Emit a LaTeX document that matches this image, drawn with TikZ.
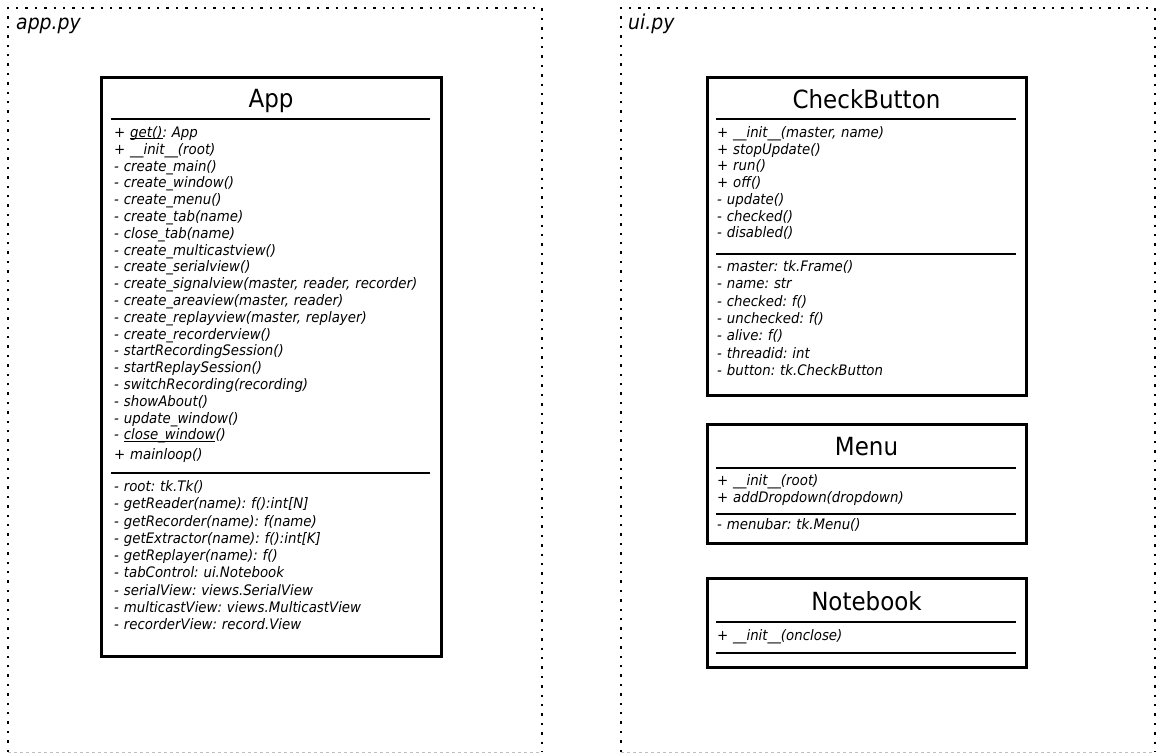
\documentclass[tikz,border=0pt]{standalone}
\usepackage{fontspec}
\setmainfont{DejaVu Sans}[FakeStretch=0.92]
\usepackage{tikz}
\newcommand{\Static}[1]{\setbox0\hbox{#1}\rlap{\rule[-1.6pt]{\wd0}{0.7pt}}\box0}
\frenchspacing

\begin{document}
\begin{tikzpicture}[x=1pt, y=-1pt,
    frame/.style={line width=2.5pt, dash pattern=on 2.4pt off 7pt},
    classbox/.style={draw, line width=3pt, inner sep=0, outer sep=0},
    classname/.style={font=\fontsize{25}{29}\selectfont, inner sep=0},
    members/.style={font=\fontsize{14.5}{16.8}\selectfont\itshape, inner sep=0, anchor=base west},
    sep/.style={line width=1.5pt}]
  \useasboundingbox (0,0) rectangle (1157,753);

  % module frames
  \draw[frame] (8,752) -- (8,8) -- (542,8) -- (542,752);
  \draw[frame] (621,752) -- (621,8) -- (1155,8) -- (1155,752);
  \draw[gray!50, dashed, line width=0.6pt] (8,752) -- (542,752) (621,752) -- (1155,752);

  \node[font=\fontsize{20.5}{24}\selectfont\itshape, inner sep=0, anchor=base west]
    (appfile) at (16,29) {app.py};
  \node[font=\fontsize{20.5}{24}\selectfont\itshape, inner sep=0, anchor=base west]
    (uifile) at (628,29) {ui.py};

  % App
  \node[classbox, minimum width=340, minimum height=579] (app) at (271,366.5) {};
  \node[classname, anchor=base] (appname) at (271,107) {App};
  \draw[sep] (111,119) -- (430,119);
  \node[members, text width=320] (appops) at (114,137.5) {+ \Static{get()}: App\\
    + \_\_init\_\_(root)\\- create\_main()\\- create\_window()\\- create\_menu()\\
    - create\_tab(name)\\- close\_tab(name)\\- create\_multicastview()\\
    - create\_serialview()\\- create\_signalview(master, reader, recorder)\\
    - create\_areaview(master, reader)\\- create\_replayview(master, replayer)\\
    - create\_recorderview()\\- startRecordingSession()\\- startReplaySession()\\
    - switchRecording(recording)\\- showAbout()\\- update\_window()\\
    - \Static{close\_window}()\\[2.5pt]+ mainloop()};
  \draw[sep] (111,473) -- (430,473);
  \node[members, text width=320, font=\fontsize{14.5}{17.25}\selectfont\itshape]
    (appattrs) at (114,491.5) {- root: tk.Tk()\\- getReader(name): f():int[N]\\
    - getRecorder(name): f(name)\\- getExtractor(name): f():int[K]\\
    - getReplayer(name): f()\\- tabControl: ui.Notebook\\
    - serialView: views.SerialView\\- multicastView: views.MulticastView\\
    - recorderView: record.View};

  % CheckButton
  \node[classbox, minimum width=319, minimum height=318] (check) at (866.5,236) {};
  \node[classname, anchor=base] (checkname) at (866.5,108) {CheckButton};
  \draw[sep] (716,119) -- (1016,119);
  \node[members, text width=295, font=\fontsize{14.5}{16.7}\selectfont\itshape]
    (checkops) at (717,137.5) {+ \_\_init\_\_(master, name)\\+ stopUpdate()\\
    + run()\\+ off()\\- update()\\- checked()\\- disabled()};
  \draw[sep] (716,254) -- (1016,254);
  \node[members, text width=295, font=\fontsize{14.5}{17.3}\selectfont\itshape]
    (checkattrs) at (717,271.5) {- master: tk.Frame()\\- name: str\\- checked: f()\\
    - unchecked: f()\\- alive: f()\\- threadid: int\\- button: tk.CheckButton};

  % Menu
  \node[classbox, minimum width=319, minimum height=119] (menu) at (866.5,483.5) {};
  \node[classname, anchor=base] (menuname) at (866.5,455) {Menu};
  \draw[sep] (716,468) -- (1016,468);
  \node[members, text width=295, font=\fontsize{14.5}{17}\selectfont\itshape]
    (menuops) at (717,485.5) {+ \_\_init\_\_(root)\\+ addDropdown(dropdown)};
  \draw[sep] (716,514) -- (1016,514);
  \node[members, text width=295] (menuattrs) at (717,529.5) {- menubar: tk.Menu()};

  % Notebook
  \node[classbox, minimum width=319, minimum height=89] (notebook) at (866.5,622.5) {};
  \node[classname, anchor=base] (notebookname) at (866.5,610) {Notebook};
  \draw[sep] (716,622) -- (1016,622);
  \node[members, text width=295] (notebookops) at (717,640.5) {+ \_\_init\_\_(onclose)};
  \draw[sep] (716,653) -- (1016,653);
\end{tikzpicture}
\end{document}
